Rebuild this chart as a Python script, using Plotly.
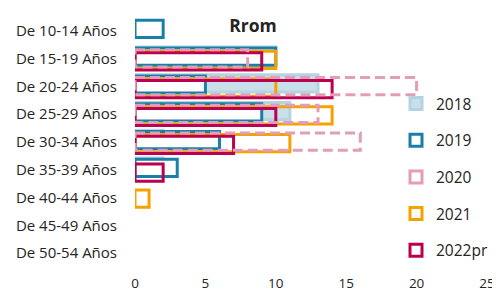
import plotly.graph_objects as go

categories = ["De 10-14 Años", "De 15-19 Años", "De 20-24 Años", "De 25-29 Años",
              "De 30-34 Años", "De 35-39 Años", "De 40-44 Años", "De 45-49 Años",
              "De 50-54 Años"]
v2018 = [0, 10, 13, 11, 2, 2, 0, 0, 0]
v2019 = [2, 10, 5, 9, 6, 3, 0, 0, 0]
v2020 = [0, 8, 20, 13, 16, 0, 0, 0, 0]
v2021 = [0, 10, 10, 14, 11, 0, 1, 0, 0]
v2022 = [0, 9, 14, 10, 7, 2, 0, 0, 0]
x_ticks = [0, 5, 10, 15, 20, 25]

pos = list(range(len(categories)))
BW = 0.62
FONT = "Open Sans, Noto Sans, sans-serif"
TXT = "#252423"
W, H = 492, 292  # page adds an 8px body margin

def nz(vals):
    return [v if v else None for v in vals]

fig = go.Figure()
fig.add_trace(go.Bar(name="2018", y=pos, x=nz(v2018), orientation="h", width=BW, offset=-BW/2 - 0.11,
                     marker=dict(color="#c8e0e9", line=dict(color="#b3d4e0", width=3))))
fig.add_trace(go.Bar(name="2019", y=pos, x=nz(v2019), orientation="h", width=BW, offset=-BW/2 - 0.07,
                     marker=dict(color="white", line=dict(color="#1a7fa8", width=3))))
# legend entry for 2020 (drawn as dashed shapes below)
fig.add_trace(go.Bar(name="2020", y=pos, x=[None] * len(pos), orientation="h", width=BW,
                     marker=dict(color="rgba(255,255,255,0)", line=dict(color="#e39cba", width=3))))
fig.add_trace(go.Bar(name="2021", y=pos, x=nz(v2021), orientation="h", width=BW, offset=-BW/2 + 0.04,
                     marker=dict(color="rgba(255,255,255,0)", line=dict(color="#f5a100", width=3))))
fig.add_trace(go.Bar(name="2022pr", y=pos, x=nz(v2022), orientation="h", width=BW, offset=-BW/2 + 0.1,
                     marker=dict(color="rgba(255,255,255,0)", line=dict(color="#bc0050", width=3))))

shapes = []
for p, v in zip(pos, v2020):
    if v:
        shapes.append(dict(type="rect", xref="x", yref="y", x0=0, x1=v,
                           y0=p - BW/2 - 0.01, y1=p + BW/2 - 0.01, layer="above",
                           line=dict(color="#e39cba", width=3, dash="10px,5px"),
                           fillcolor="rgba(0,0,0,0)"))

fig.update_layout(
    width=W, height=H,
    barmode="overlay",
    paper_bgcolor="white", plot_bgcolor="white",
    margin=dict(l=127, r=13, t=9, b=33, autoexpand=False),
    font=dict(family=FONT, size=13.5, color=TXT),
    title=dict(text="<b>Rrom</b>", x=245 / W, xref="container", y=1 - 18 / H, yref="container",
               xanchor="center", yanchor="middle", font=dict(size=17.5, color=TXT, family=FONT)),
    shapes=shapes,
    showlegend=True,
    legend=dict(xref="container", yref="container", x=388 / W, y=1 - 79 / H, xanchor="left", yanchor="top",
                bgcolor="rgba(0,0,0,0)", font=dict(size=15.5, color=TXT, family=FONT),
                traceorder="grouped", tracegroupgap=13.5, itemwidth=30, maxheight=280),
    xaxis=dict(range=[0, 25], tickvals=x_ticks, showgrid=False, zeroline=False, showline=False,
               ticks="outside", ticklen=4, tickcolor="rgba(0,0,0,0)", fixedrange=True),
    yaxis=dict(range=[len(categories) - 0.5, -0.5], tickvals=pos, ticktext=categories,
               showgrid=False, zeroline=False, showline=False, tickfont=dict(size=15),
               ticks="outside", ticklen=14, tickcolor="rgba(0,0,0,0)", fixedrange=True),
)
for i, tr in enumerate(fig.data):
    tr.legendgroup = "g%d" % i

fig.write_html("out.html")
